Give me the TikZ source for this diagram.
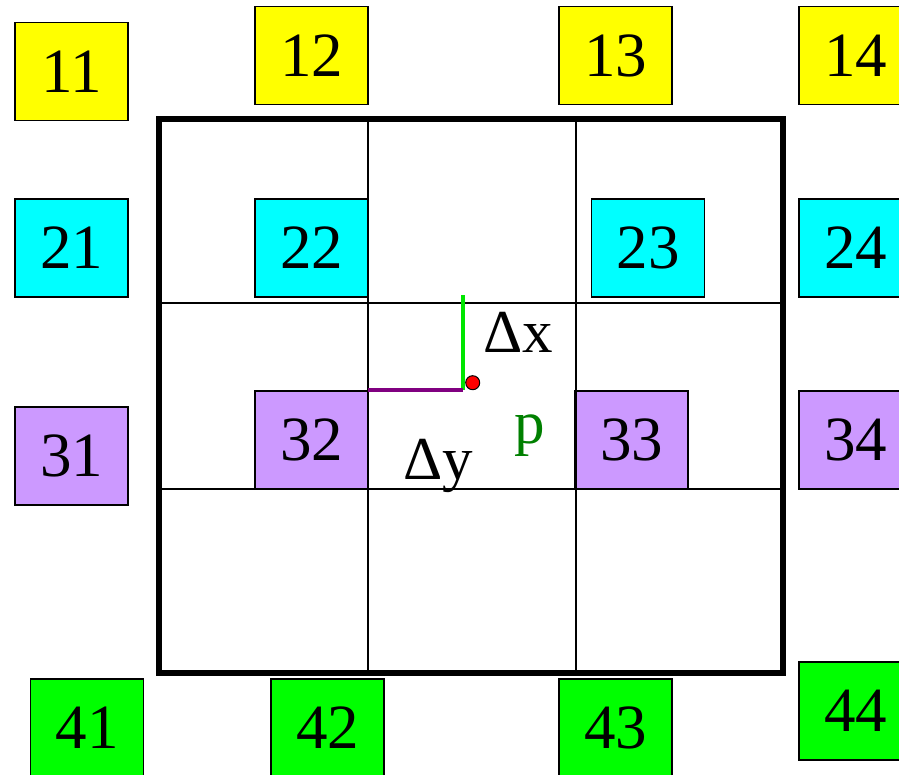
\documentclass[tikz,border=0pt]{standalone}
\usepackage{fontspec}
\setmainfont{Liberation Serif}
\definecolor{cyel}{RGB}{255,255,0}
\definecolor{ccya}{RGB}{0,255,255}
\definecolor{cpur}{RGB}{204,153,255}
\definecolor{cgrn}{RGB}{0,255,0}
\definecolor{lgrn}{RGB}{0,230,0}
\definecolor{dgrn}{RGB}{0,128,0}
\definecolor{dpur}{RGB}{128,0,128}
\tikzset{
  cell/.style={draw=black, line width=1.5pt, minimum width=113pt, minimum height=98pt, inner sep=0pt, font=\fontsize{63}{63}\selectfont},
  gridl/.style={line width=2pt},
  lbl/.style={font=\fontsize{61}{61}\selectfont, inner sep=0pt}
}
\begin{document}
\begin{tikzpicture}[x=1pt,y=-1pt]
\useasboundingbox (0,0) rectangle (899,774);
\clip (0,0) rectangle (899,774);
\fill[white] (0,0) rectangle (899,774);
% boxes
\node[cell, fill=cyel] (b11) at (71.5,71.5) {11};
\node[cell, fill=cyel] (b12) at (311.5,55.5) {12};
\node[cell, fill=cyel] (b13) at (615.5,55.5) {13};
\node[cell, fill=cyel] (b14) at (855.5,55.5) {14};
\node[cell, fill=ccya] (b21) at (71.5,248) {21};
\node[cell, fill=ccya] (b22) at (311.5,248) {22};
\node[cell, fill=ccya] (b23) at (648,248) {23};
\node[cell, fill=ccya] (b24) at (855.5,248) {24};
\node[cell, fill=cpur] (b31) at (71.5,456) {31};
\node[cell, fill=cpur] (b32) at (311.5,440) {32};
\node[cell, fill=cpur] (b33) at (631.5,440) {33};
\node[cell, fill=cpur] (b34) at (855.5,440) {34};
\node[cell, fill=cgrn] (b41) at (87,728) {41};
\node[cell, fill=cgrn] (b42) at (327.5,728) {42};
\node[cell, fill=cgrn] (b43) at (615.5,728) {43};
\node[cell, fill=cgrn] (b44) at (855.5,711) {44};
% grid
\draw[gridl] (367.5,119) -- (367.5,673);
\draw[gridl] (575.5,119) -- (575.5,673);
\draw[gridl] (159,303) -- (783,303);
\draw[gridl] (159,488.5) -- (783,488.5);
\draw[line width=5.5pt] (159,119) rectangle (783,673);
% offsets
\coordinate (gtop) at (463,295);
\coordinate (corner) at (463,390);
\coordinate (left) at (367.5,390);
\draw[lgrn, line width=4.5pt] (gtop) -- (corner);
\draw[dpur, line width=4pt] (left) -- (corner);
\node[circle, draw=black, fill=red, line width=1pt, minimum size=14pt, inner sep=0pt] (p) at (472.7,382.7) {};
\node[lbl, anchor=base west] (dx) at (483,352) {Δx};
\node[lbl, anchor=base west] (dy) at (403,479) {Δy};
\node[lbl, anchor=base west, text=dgrn] (pl) at (514,443) {p};
\end{tikzpicture}
\end{document}
